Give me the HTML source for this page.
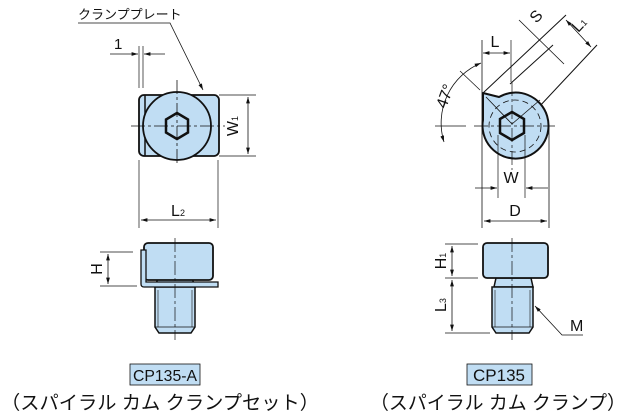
<!DOCTYPE html>
<html><head><meta charset="utf-8"><style>
body{margin:0;background:#fff}
svg{display:block}
text{font-family:"Liberation Sans","Noto Sans CJK JP",sans-serif;fill:#111}
</style></head><body>
<svg width="638" height="416" viewBox="0 0 638 416" xmlns="http://www.w3.org/2000/svg">
<defs>
<marker id="a" viewBox="0 0 10 6" refX="10" refY="3" markerWidth="8" markerHeight="5" orient="auto-start-reverse"><path d="M0,0L10,3L0,6z" fill="#111"/></marker>
</defs>
<g stroke="#111" fill="none" stroke-width="1">
<!-- LEFT TOP -->
<rect x="139" y="95" width="80" height="61" rx="5" fill="#c0ddf3" stroke-width="1.8"/>
<line x1="145" y1="95" x2="145" y2="156" stroke-width="1.5"/>
<circle cx="177" cy="126" r="34" fill="#c0ddf3" stroke-width="1.8"/>
<polygon points="177,113 188,119.5 188,132.5 177,139 166,132.5 166,119.5" stroke-width="2.5"/>
<line x1="131" y1="126" x2="225" y2="126" stroke-dasharray="14,3,3,3" stroke-width="0.8"/>
<line x1="177" y1="80" x2="177" y2="166" stroke-dasharray="14,3,3,3" stroke-width="0.8"/>
<line x1="219" y1="95" x2="256" y2="95" stroke-width="0.7"/>
<line x1="219" y1="156" x2="256" y2="156" stroke-width="0.7"/>
<line x1="248" y1="97" x2="248" y2="154" marker-start="url(#a)" marker-end="url(#a)" stroke-width="0.8"/>
<line x1="139" y1="160" x2="139" y2="228" stroke-width="0.7"/>
<line x1="218" y1="160" x2="218" y2="228" stroke-width="0.7"/>
<line x1="141" y1="220" x2="216" y2="220" marker-start="url(#a)" marker-end="url(#a)" stroke-width="0.8"/>
<line x1="139" y1="46" x2="139" y2="88" stroke-width="0.7"/>
<line x1="143" y1="46" x2="143" y2="88" stroke-width="0.7"/>
<line x1="110" y1="54" x2="138" y2="54" marker-end="url(#a)" stroke-width="0.8"/>
<line x1="165" y1="54" x2="144" y2="54" marker-end="url(#a)" stroke-width="0.8"/>
<polyline points="78,23 170,23 203,90" marker-end="url(#a)" stroke-width="0.8"/>
<!-- LEFT SIDE -->
<path d="M158,278 L192,278 L195,287 L155,287 Z" fill="#c0ddf3" stroke-width="1.5"/>
<path d="M155,287 L195,287 L195,327 L191,333 L159,333 L155,327 Z" fill="#c0ddf3" stroke-width="1.5"/>
<line x1="158" y1="290" x2="158" y2="327" stroke-width="0.6"/><line x1="192" y1="290" x2="192" y2="327" stroke-width="0.6"/>
<line x1="155" y1="327" x2="195" y2="327" stroke-width="0.8"/>
<rect x="144" y="243" width="69" height="37" rx="4" fill="#c0ddf3" stroke-width="1.8"/>
<path d="M141,250 L141,284 Q141,287 144,287 L218,287 L218,282 L146,282 L146,250 Z" fill="#c0ddf3" stroke-width="1.3"/>
<line x1="175" y1="238" x2="175" y2="340" stroke-dasharray="14,3,3,3" stroke-width="0.7"/>
<line x1="100" y1="252" x2="133" y2="252" stroke-width="0.7"/>
<line x1="100" y1="286" x2="137" y2="286" stroke-width="0.7"/>
<line x1="108" y1="254" x2="108" y2="284" marker-start="url(#a)" marker-end="url(#a)" stroke-width="0.8"/>
<!-- RIGHT TOP -->
<line x1="483" y1="93" x2="566" y2="15" stroke-width="1"/>
<line x1="510" y1="84" x2="553" y2="45" stroke-width="1"/>
<line x1="538" y1="108" x2="597" y2="45" stroke-width="1"/>
<line x1="519" y1="20" x2="564" y2="64" stroke-width="0.8"/>
<line x1="566" y1="20" x2="591" y2="47" marker-start="url(#a)" marker-end="url(#a)" stroke-width="0.8"/>
<path d="M483,93 L499,97 A33,33 0 1 1 483,120 Z" fill="#c0ddf3" stroke-width="2" stroke-linejoin="round"/>
<circle cx="515" cy="126" r="26" stroke-dasharray="6,4" stroke-width="0.8"/>
<polygon points="512,112 524,119 524,133 512,140 500,133 500,119" stroke-width="2.5"/>
<line x1="486" y1="97" x2="512" y2="124" stroke-width="0.8"/>
<line x1="512" y1="124" x2="540" y2="100" stroke-width="0.8"/>
<line x1="435" y1="126" x2="466" y2="126" stroke-width="0.7"/>
<line x1="474" y1="126" x2="555" y2="126" stroke-dasharray="14,3,3,3" stroke-width="0.7"/>
<line x1="512" y1="82" x2="512" y2="170" stroke-dasharray="14,3,3,3" stroke-width="0.7"/>
<line x1="482" y1="40" x2="482" y2="228" stroke-width="0.8"/>
<line x1="511" y1="40" x2="511" y2="82" stroke-width="0.7"/>
<line x1="549" y1="126" x2="549" y2="228" stroke-width="0.8"/>
<line x1="498" y1="135" x2="498" y2="198" stroke-width="0.7"/>
<line x1="525" y1="135" x2="525" y2="198" stroke-width="0.7"/>
<line x1="483" y1="53" x2="510" y2="53" marker-start="url(#a)" marker-end="url(#a)" stroke-width="0.8"/>
<line x1="475" y1="188" x2="497" y2="188" marker-end="url(#a)" stroke-width="0.8"/>
<line x1="548" y1="188" x2="526" y2="188" marker-end="url(#a)" stroke-width="0.8"/>
<line x1="484" y1="221" x2="547" y2="221" marker-start="url(#a)" marker-end="url(#a)" stroke-width="0.8"/>
<path d="M481,63 A65,65 0 0 0 444,142" marker-start="url(#a)" marker-end="url(#a)" stroke-width="0.8"/>
<line x1="460" y1="71" x2="480" y2="90" stroke-width="0.7"/>
<!-- RIGHT SIDE -->
<path d="M496,278 L531,278 L533,287 L494,287 Z" fill="#c0ddf3" stroke-width="1.5"/>
<path d="M492,287 L533,287 L533,327 L529,333 L496,333 L492,327 Z" fill="#c0ddf3" stroke-width="1.5"/>
<line x1="495" y1="290" x2="495" y2="327" stroke-width="0.6"/><line x1="530" y1="290" x2="530" y2="327" stroke-width="0.6"/>
<line x1="492" y1="327" x2="533" y2="327" stroke-width="0.8"/>
<rect x="483" y="243" width="65" height="35" rx="4" fill="#c0ddf3" stroke-width="1.8"/>
<line x1="512" y1="238" x2="512" y2="340" stroke-dasharray="14,3,3,3" stroke-width="0.7"/>
<line x1="445" y1="244" x2="478" y2="244" stroke-width="0.7"/>
<line x1="445" y1="278" x2="478" y2="278" stroke-width="0.7"/>
<line x1="445" y1="333" x2="490" y2="333" stroke-width="0.7"/>
<line x1="452" y1="246" x2="452" y2="276" marker-start="url(#a)" marker-end="url(#a)" stroke-width="0.8"/>
<line x1="452" y1="280" x2="452" y2="331" marker-start="url(#a)" marker-end="url(#a)" stroke-width="0.8"/>
<polyline points="583,335 562,335 535,306" marker-end="url(#a)" stroke-width="0.8"/>
</g>
<!-- labels -->
<text x="78" y="19" font-size="13">クランププレート</text>
<text x="114" y="49" font-size="15">1</text>
<text x="238" y="126" font-size="16" transform="rotate(-90 238 126)" text-anchor="middle">W<tspan font-size="9">1</tspan></text>
<text x="178" y="216" font-size="16" text-anchor="middle">L<tspan font-size="9">2</tspan></text>
<text x="97" y="269" font-size="16" transform="rotate(-90 97 269)" text-anchor="middle" dy="5">H</text>
<text x="495" y="47" font-size="16" text-anchor="middle">L</text>
<text x="540" y="20" font-size="16" transform="rotate(-47 540 20)" text-anchor="middle">S</text>
<text x="583" y="28" font-size="16" transform="rotate(-47 583 28)" text-anchor="middle">L<tspan font-size="9">1</tspan></text>
<text x="450" y="98" font-size="16" transform="rotate(-70 450 98)" text-anchor="middle">47°</text>
<text x="511" y="183" font-size="16" text-anchor="middle">W</text>
<text x="515" y="216" font-size="16" text-anchor="middle">D</text>
<text x="441" y="261" font-size="16" transform="rotate(-90 441 261)" text-anchor="middle" dy="5">H<tspan font-size="9">1</tspan></text>
<text x="441" y="305" font-size="16" transform="rotate(-90 441 305)" text-anchor="middle" dy="5">L<tspan font-size="9">3</tspan></text>
<text x="570" y="331" font-size="16">M</text>
<rect x="130" y="364" width="70" height="21" fill="#c0ddf3" stroke="#111" stroke-width="0.8"/>
<text x="165" y="381" font-size="16" text-anchor="middle" textLength="64" lengthAdjust="spacingAndGlyphs">CP135-A</text>
<rect x="467" y="364" width="65" height="21" fill="#c0ddf3" stroke="#111" stroke-width="0.8"/>
<text x="499" y="381" font-size="17" text-anchor="middle">CP135</text>
<text x="160" y="409" font-size="19" text-anchor="middle" textLength="318" lengthAdjust="spacingAndGlyphs">（スパイラル カム クランプセット）</text>
<text x="498" y="409" font-size="19" text-anchor="middle" textLength="256" lengthAdjust="spacingAndGlyphs">（スパイラル カム クランプ）</text>
</svg>
</body></html>
